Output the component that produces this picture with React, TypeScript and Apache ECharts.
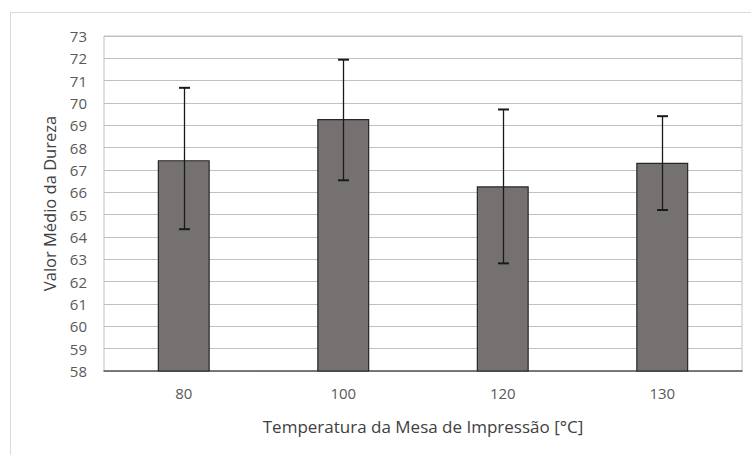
import React, { useEffect, useRef } from "react";
import * as echarts from "echarts";

const categories = ["80", "100", "120", "130"];
const meanValues = [67.44, 69.28, 66.27, 67.32];
const errorLow = [64.35, 66.54, 62.82, 65.21];
const errorHigh = [70.68, 71.94, 69.71, 69.41];
const yTicks = { min: 58, max: 73, interval: 1 };

const FONT = "'Open Sans', 'Noto Sans', sans-serif";

export default function App() {
  const ref = useRef<HTMLDivElement>(null);
  useEffect(() => {
    if (!ref.current) return;
    const chart = echarts.init(ref.current, null, { renderer: "svg" });
    const errData = categories.map((c, i) => [i, errorLow[i], errorHigh[i]]);
    chart.setOption({
      animation: false,
      backgroundColor: "#ffffff",
      textStyle: { fontFamily: FONT },
      graphic: [
        {
          type: "polyline",
          shape: { points: [[10.5, 455], [10.5, 12.5], [751, 12.5]] },
          style: { stroke: "#d9d9d9", fill: "none", lineWidth: 1 },
          silent: true,
        },
      ],
      grid: {
        left: 104,
        right: 9,
        top: 36,
        bottom: 84,
        show: true,
        borderColor: "#c0c0c0",
        borderWidth: 1,
      },
      xAxis: {
        type: "category",
        data: categories,
        name: "Temperatura da Mesa de Impressão [°C]",
        nameLocation: "middle",
        nameGap: 47,
        nameTextStyle: { fontSize: 17, color: "#404040", fontFamily: FONT },
        axisLine: { lineStyle: { color: "#595959", width: 1.5 } },
        axisTick: { show: false },
        axisLabel: { fontSize: 15, color: "#595959", margin: 14, fontFamily: FONT },
      },
      yAxis: {
        type: "value",
        min: yTicks.min,
        max: yTicks.max,
        interval: yTicks.interval,
        name: "Valor Médio da Dureza",
        nameLocation: "middle",
        nameGap: 46,
        nameTextStyle: { fontSize: 16.5, color: "#404040", fontFamily: FONT },
        axisLine: { show: false },
        axisTick: { show: false },
        axisLabel: { fontSize: 15, color: "#595959", margin: 17, fontFamily: FONT },
        splitLine: { lineStyle: { color: "#c0c0c0", width: 1 } },
      },
      series: [
        {
          type: "bar",
          data: meanValues,
          barWidth: "32.6%",
          itemStyle: { color: "#767171", borderColor: "#262626", borderWidth: 1.2 },
          z: 2,
        },
        {
          type: "custom",
          data: errData,
          z: 5,
          renderItem: (params: any, api: any) => {
            const idx = api.value(0);
            const lo = api.coord([idx, api.value(1)]);
            const hi = api.coord([idx, api.value(2)]);
            const x = Math.round(lo[0]) + 0.5;
            const cap = 5.5;
            const style = { stroke: "#1a1a1a", lineWidth: 1.3 };
            return {
              type: "group",
              children: [
                { type: "line", shape: { x1: x, y1: hi[1], x2: x, y2: lo[1] }, style },
                { type: "line", shape: { x1: x - cap, y1: hi[1], x2: x + cap, y2: hi[1] }, style: { ...style, lineWidth: 2 } },
                { type: "line", shape: { x1: x - cap, y1: lo[1], x2: x + cap, y2: lo[1] }, style: { ...style, lineWidth: 2 } },
              ],
            };
          },
        },
      ],
    });
    return () => chart.dispose();
  }, []);
  return (
    <div
      ref={ref}
      style={{ position: "absolute", left: 0, top: 0, width: 751, height: 455 }}
    />
  );
}
